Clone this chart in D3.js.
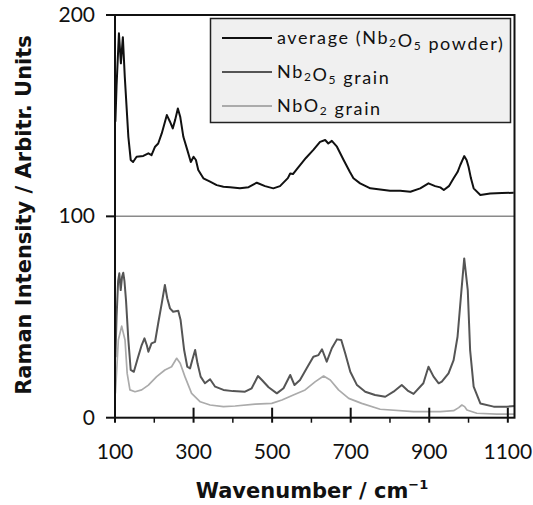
<!DOCTYPE html>
<html><head><meta charset="utf-8">
<script src="https://cdn.jsdelivr.net/npm/d3@7"></script>
<style>body{margin:0;background:#fff}svg{display:block}</style>
</head><body>
<svg id="c" width="533" height="505"></svg>
<script>
const xTicks = [100, 300, 500, 700, 900, 1100];
const xMinorTicks = [200, 400, 600, 800, 1000];
const yTicks = [0, 100, 200];
const seriesNames = ["average (Nb2O5 powder)", "Nb2O5 grain", "NbO2 grain"];

const avgX = [101,104,110,115,120,125,134,140,146,155,172,185,193,202,210,219,232,240,247,253,260,266,274,284,293,300,306,312,325,342,359,376,393,418,440,461,482,503,520,540,546,553,565,586,605,622,635,643,652,665,682,698,707,724,750,800,826,852,877,898,915,928,937,950,962,972,979,989,995,1000,1006,1013,1030,1055,1085,1115];
const avgY = [147,165,190.9,176,189,169,139.5,128,127,129.6,130,131.3,130.4,134.6,136.2,141.2,150.3,147,143.7,147.8,153.6,149.5,139.5,133,127,129.6,128,123,118.9,117.2,115.5,114.7,114.4,113.9,114.5,116.7,115,113.9,115,119,121.3,121,124,129,133,137,137.9,136.2,137.5,134.6,128,122,118.9,116.4,113.9,112.7,112.7,112.2,113.9,116.4,115,114.4,113.1,115,118.9,122,125.5,129.9,128,124.6,119,113.9,110.6,111.4,111.6,111.7];

const nb2o5X = [101,104,108,111,114.5,118,121,124,128,134,140,148,159,168,175,181,185,193,202,210,219,227,233,240,248,261,267,276,284,291,298,304,310,318,329,342,355,376,400,431,448,464,474,491,512,529,546,557,571,588,605,618,627,639,652,665,676,686,699,716,737,762,788,809,830,845,860,885,898,911,924,932,949,962,972,982,989,998,1004,1013,1030,1064,1098,1119];
const nb2o5Y = [30,50,68,71.7,63.4,70,72,68,58.4,38.6,23.7,22.8,30.3,36.1,39.4,36,32.8,36.9,37.7,46.9,56.8,65.9,59.3,54.3,52.6,53.1,48.5,33.6,25.3,24.5,29.5,33.6,27,20.4,17.1,19.1,15.4,13.8,13.2,12.9,14.6,20.7,18.7,15.1,12.1,14.6,21.2,16.2,18.7,24.5,30.3,31.1,34,27.8,34.5,38.9,38.6,32,22.8,16.2,12.9,11.3,10.4,12.9,16.2,13.5,11.8,17.1,25.3,20.4,17.1,17.9,22,28.6,40.2,63.4,79.1,63.4,33.6,15.4,7.1,5.5,5.5,5.8];

const nbo2X = [101,103,108.5,117,125.5,131,138,151,168,185,206,227,244,257,266,278,295,317,342,376,406,457,499,525,554,584,610,631,648,669,695,728,775,860,928,962,975,983,990,996,1021,1072,1119];
const nbo2Y = [12,18.7,38.6,45.5,38.6,22,13.8,12.9,13.8,16.2,20.4,23.7,25.3,29.5,27,20.4,12.1,7.9,6.3,5.5,5.8,6.7,7.1,8.8,11.3,13.8,17.9,20.7,18.7,13.8,9.6,7.1,4.2,3.0,3.0,3.5,5,6.3,5.5,3.8,2.2,1.8,1.8];

const svg = d3.select("#c");
const L = 115, R = 514.5, T = 15, B = 417.7;
const x = d3.scaleLinear().domain([100, 1117]).range([L, R]);
const y = d3.scaleLinear().domain([0, 200]).range([B, T]);

svg.append("defs").append("clipPath").attr("id","clip")
  .append("rect").attr("x",L).attr("y",T).attr("width",R-L).attr("height",B-T);

// separator line at 100
svg.append("line").attr("x1",L).attr("x2",R).attr("y1",y(100)).attr("y2",y(100))
  .attr("stroke","#8a8a8a").attr("stroke-width",1.5);

const line = d3.line().x(d=>x(d[0])).y(d=>y(d[1]));
const series = [
  {xs: nbo2X, ys: nbo2Y, color: "#ababab", w: 1.7},
  {xs: nb2o5X, ys: nb2o5Y, color: "#555555", w: 2},
  {xs: avgX, ys: avgY, color: "#111111", w: 2}
];
const g = svg.append("g").attr("clip-path","url(#clip)");
series.forEach(s=>{
  g.append("path").datum(s.xs.map((v,i)=>[v,s.ys[i]]))
    .attr("d", line).attr("fill","none").attr("stroke",s.color)
    .attr("stroke-width",s.w).attr("stroke-linejoin","round");
});

// frame
svg.append("rect").attr("x",L).attr("y",T).attr("width",R-L).attr("height",B-T)
  .attr("fill","none").attr("stroke","#111").attr("stroke-width",2);

// x axis ticks
const xa = svg.append("g");
xTicks.forEach(t=>{
  xa.append("line").attr("x1",x(t)).attr("x2",x(t)).attr("y1",B-10).attr("y2",B+5)
    .attr("stroke","#111").attr("stroke-width",2);
  xa.append("text").attr("x",x(t)).attr("y",459).attr("text-anchor","middle")
    .attr("font-family","Lato, 'Open Sans', sans-serif").attr("font-size",21).attr("fill","#111").text(t);
});
xMinorTicks.forEach(t=>{
  xa.append("line").attr("x1",x(t)).attr("x2",x(t)).attr("y1",B).attr("y2",B+5)
    .attr("stroke","#111").attr("stroke-width",1.5);
});
// y axis ticks
yTicks.forEach(t=>{
  xa.append("line").attr("x1",L-9).attr("x2",L).attr("y1",y(t)).attr("y2",y(t))
    .attr("stroke","#111").attr("stroke-width",2);
  xa.append("text").attr("x",95).attr("y",y(t)+7).attr("text-anchor","end")
    .attr("font-family","Lato, 'Open Sans', sans-serif").attr("font-size",21).attr("fill","#111").text(t);
});

// axis titles
const xt = svg.append("text").attr("x",312).attr("y",498).attr("text-anchor","middle")
  .attr("font-family","'DejaVu Sans', Verdana, sans-serif").attr("font-weight","bold")
  .attr("font-size",21).attr("fill","#111");
xt.append("tspan").text("Wavenumber / cm");
xt.append("tspan").attr("dy",-9).attr("font-size",13).text("−1");

svg.append("text").attr("transform","translate(31,215) rotate(-90)").attr("text-anchor","middle")
  .attr("font-family","'DejaVu Sans', Verdana, sans-serif").attr("font-weight","bold")
  .attr("font-size",21).attr("fill","#111").text("Raman Intensity / Arbitr. Units");

// legend
const lg = svg.append("g");
lg.append("rect").attr("x",210.5).attr("y",18.5).attr("width",300).attr("height",104)
  .attr("fill","#f0f0f0").attr("stroke","#222").attr("stroke-width",1.5);
const legColors = ["#111111","#555555","#ababab"];
const legY = [38, 72, 106];
function richText(t, s){
  const parts = s.split(/(\d)/);
  parts.forEach(p=>{
    if(p==="") return;
    if(/^\d$/.test(p)){
      t.append("tspan").attr("font-size",12).attr("dy",3).text(p);
      t.append("tspan").attr("dy",-3).text("");
    } else {
      t.append("tspan").text(p);
    }
  });
}
seriesNames.forEach((n,i)=>{
  lg.append("line").attr("x1",222).attr("x2",272).attr("y1",legY[i]).attr("y2",legY[i])
    .attr("stroke",legColors[i]).attr("stroke-width",2);
  const t = lg.append("text").attr("x",277).attr("y",legY[i]+6)
    .attr("font-family","Lato, 'Open Sans', sans-serif").attr("font-size",18)
    .attr("letter-spacing",1.6).attr("fill","#111");
  richText(t, n);
});
</script>
</body></html>
